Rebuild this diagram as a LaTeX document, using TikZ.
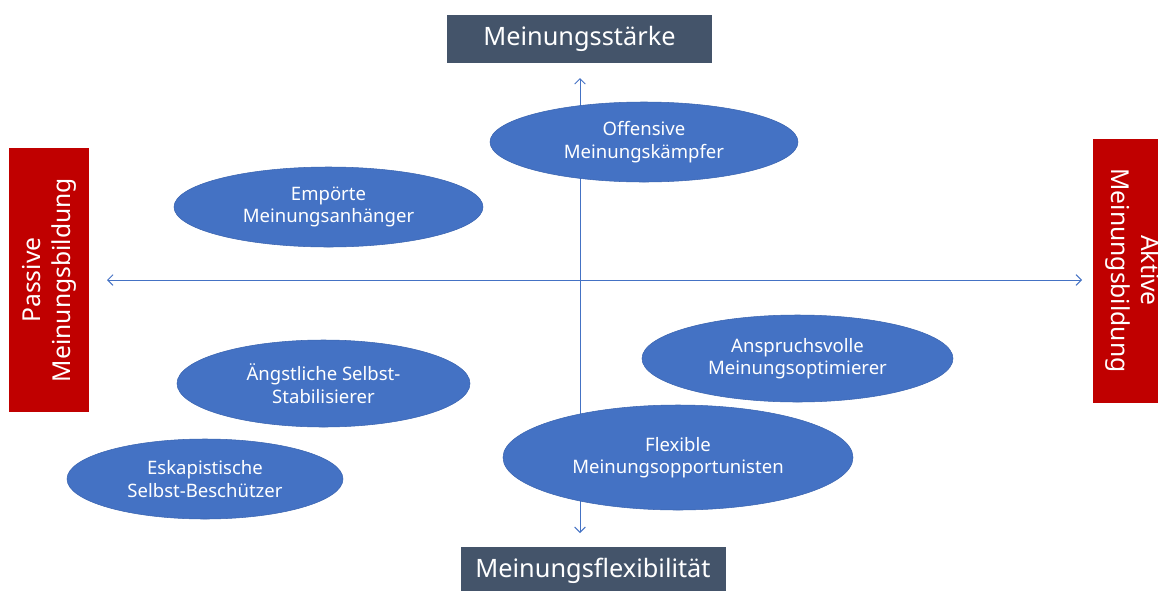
\documentclass[tikz,border=0pt]{standalone}
\usepackage{fontspec}
\setmainfont{Noto Sans}
\usetikzlibrary{shapes.geometric,arrows.meta}
\definecolor{segblue}{HTML}{4472C4}
\definecolor{segedge}{HTML}{3A64B0}
\definecolor{slate}{HTML}{44546A}
\definecolor{darkred}{HTML}{C00000}
\tikzset{
  segment/.style={ellipse, fill=segblue, draw=segedge, line width=0.4pt, inner sep=0pt,
    text=white, align=center, font=\fontsize{13.9}{16.8}\selectfont},
  dimbox/.style={fill=slate, text=white, inner sep=0pt, minimum width=265*0.75pt,
    minimum height=48*0.75pt, font=\fontsize{19}{23}\selectfont},
  polebox/.style={fill=darkred, text=white, inner sep=0pt, align=center, minimum width=264*0.75pt,
    minimum height=80*0.75pt, font=\fontsize{18.5}{22.5}\selectfont},
  axis/.style={segblue, line width=0.75pt, {Straight Barb[length=4pt,width=8pt]}-{Straight Barb[length=4pt,width=8pt]}}
}
\begin{document}
\begin{tikzpicture}[x=0.75pt,y=-0.75pt]
  \useasboundingbox (0,0) rectangle (1158,590);
  \clip (0,0) rectangle (1158,590);

  \coordinate (west) at (107,280);
  \coordinate (east) at (1082,280);
  \coordinate (north) at (580,78);
  \coordinate (south) at (580,533);
  \draw[axis] (west) -- (east);
  \draw[axis] (south) -- (north);

  \node[dimbox] (staerke) at (579.5,39) {Meinungsstärke};
  \node[dimbox] (flex) at (593,571) {Meinungsflexibilität};
  \node[polebox, rotate=90] (passiv) at (49,280) {Passive\\Meinungsbildung};
  \node[polebox, rotate=-90] (aktiv) at (1133,270.5) {Aktive\\Meinungsbildung};

  \node[segment, minimum width=308*0.75pt, minimum height=80*0.75pt] (kaempfer) at (644,142) {Offensive\\Meinungskämpfer};
  \node[segment, minimum width=309*0.75pt, minimum height=80*0.75pt] (anhaenger) at (328.5,207) {Empörte\\Meinungsanhänger};
  \node[segment, minimum width=293*0.75pt, minimum height=87*0.75pt] (stabil) at (323.5,383.5) {Ängstliche Selbst-\\Stabilisierer};
  \node[segment, minimum width=311*0.75pt, minimum height=87*0.75pt] (optim) at (797.5,358.5) {Anspruchsvolle\\Meinungsoptimierer};
  \node[segment, minimum width=350*0.75pt, minimum height=105*0.75pt] (opport) at (678,457.5) {Flexible\\Meinungsopportunisten};
  \node[segment, minimum width=276*0.75pt, minimum height=80*0.75pt] (schuetzer) at (205,479) {Eskapistische\\Selbst-Beschützer};
\end{tikzpicture}
\end{document}
